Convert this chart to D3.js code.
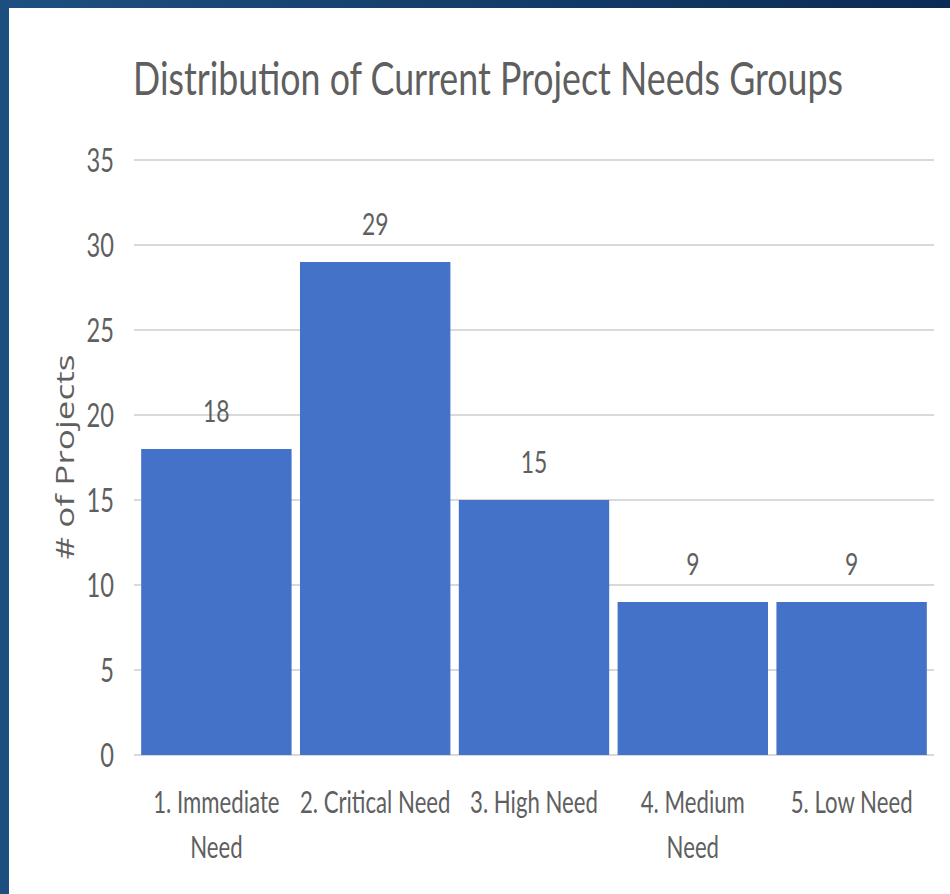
<!DOCTYPE html>
<html><head><meta charset="utf-8">
<script src="https://cdn.jsdelivr.net/npm/d3@7"></script>
<style>
html,body{margin:0;padding:0;width:950px;height:894px;overflow:hidden;background:#1c4e80;}
svg{display:block;}
</style></head>
<body>
<svg id="chart" width="950" height="894"></svg>
<script>
const title = "Distribution of Current Project Needs Groups";
const yAxisTitle = "# of Projects";
const categories = ["1. Immediate Need", "2. Critical Need", "3. High Need", "4. Medium Need", "5. Low Need"];
const categoryLines = [["1. Immediate", "Need"], ["2. Critical Need"], ["3. High Need"], ["4. Medium", "Need"], ["5. Low Need"]];
const values = [18, 29, 15, 9, 9];
const yTicks = [0, 5, 10, 15, 20, 25, 30, 35];

const svg = d3.select("#chart");
const W = 950, H = 894;
const font = "Lato, 'Open Sans', sans-serif";
const grey = "#5f5f5f";
const condense = 0.74;

// frame
const defs = svg.append("defs");
const g1 = defs.append("linearGradient").attr("id","frameGrad").attr("x1","0").attr("x2","1").attr("y1","0").attr("y2","0");
g1.append("stop").attr("offset","0").attr("stop-color","#1d5081");
g1.append("stop").attr("offset","1").attr("stop-color","#0a2b55");
svg.append("rect").attr("x",0).attr("y",0).attr("width",W).attr("height",H).attr("fill","url(#frameGrad)");
svg.append("rect").attr("x",0).attr("y",0).attr("width",9).attr("height",H).attr("fill","#1c4e80");
svg.append("rect").attr("x",9).attr("y",8).attr("width",W-9).attr("height",H-8).attr("fill","#ffffff");

const margin = {left: 138, right: 20, top: 160, bottom: 139};
const x = d3.scaleBand().domain(categories).range([margin.left, W - margin.right]).paddingInner(0.053).paddingOuter(0.02);
const y = d3.scaleLinear().domain([0, 35]).range([H - margin.bottom, margin.top]);

// place a horizontally condensed text at (px, py) using a scale transform
function condensedText(parent, str, px, py, size, anchor, f, fam) {
  const t = parent.append("text")
    .attr("text-anchor", anchor)
    .attr("fill", grey).attr("font-family", fam || font).attr("font-size", size)
    .attr("transform", `translate(${px},${py}) scale(${f},1)`)
    .text(str);
  return t;
}

// gridlines
const gridG = svg.append("g");
gridG.selectAll("line").data(yTicks).join("line")
  .attr("x1", margin.left - 4).attr("x2", W - margin.right + 4)
  .attr("y1", d => y(d)).attr("y2", d => y(d))
  .attr("stroke", "#d9d9d9").attr("stroke-width", 2);

// tick labels
const tickG = svg.append("g");
yTicks.forEach(v => condensedText(tickG, d3.format("d")(v), margin.left - 24, y(v) + 11.5, 32, "end", condense));

// bars
svg.append("g").selectAll("rect").data(values).join("rect")
  .attr("x", (d, i) => x(categories[i]))
  .attr("width", x.bandwidth())
  .attr("y", d => y(d))
  .attr("height", d => y(0) - y(d))
  .attr("fill", "#4472c9");

// data labels
const dlG = svg.append("g");
values.forEach((v, i) => condensedText(dlG, String(v), x(categories[i]) + x.bandwidth() / 2, y(v) - 27, 31, "middle", condense));

// category labels
const cl = svg.append("g");
categoryLines.forEach((lines, i) => {
  lines.forEach((ln, j) => {
    condensedText(cl, ln, x(categories[i]) + x.bandwidth() / 2, 813 + j * 45, 30, "middle", condense);
  });
});

// title
const tt = condensedText(svg, title, 488, 95, 46, "middle", 1);
const natural = tt.node().getComputedTextLength();
tt.attr("transform", `translate(488,95) scale(${710 / natural},1)`);

// y axis title
const yt = svg.append("text")
  .attr("text-anchor", "middle")
  .attr("fill", grey).attr("font-family", "'Open Sans', sans-serif").attr("font-size", 25)
  .text(yAxisTitle);
const ytLen = yt.node().getComputedTextLength();
yt.attr("transform", `translate(74,457) rotate(-90) scale(${205 / ytLen},1)`);
</script>
</body></html>
